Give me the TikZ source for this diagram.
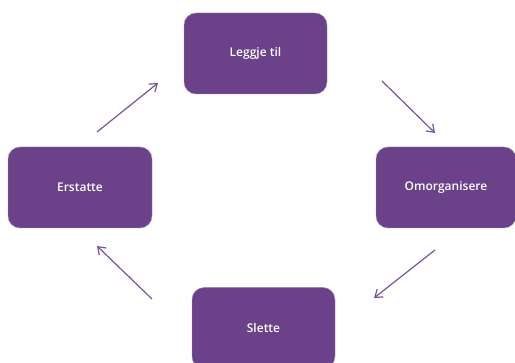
\documentclass[tikz,border=0pt]{standalone}
\usepackage{fontspec}
\setmainfont{Open Sans}[BoldFont={Open Sans Semibold}]
\usetikzlibrary{arrows.meta}
\definecolor{boxpurple}{HTML}{6B4189}
\definecolor{arrowpurple}{HTML}{7B52A0}
\tikzset{
  stepbox/.style={fill=boxpurple, draw=boxpurple!60!white, line width=0.4pt, rounded corners=12pt, minimum width=143pt, minimum height=81pt, inner sep=0pt, text=white, font=\bfseries\fontsize{12}{14}\selectfont, anchor=center},
  flow/.style={draw=arrowpurple, line width=1.2pt, -{Straight Barb[length=7pt,width=10pt]}}
}
\begin{document}
\begin{tikzpicture}[x=1pt,y=-1pt]
\useasboundingbox (0,0) rectangle (515,363);
\clip (0,0) rectangle (515,363);
\node[stepbox] (top) at (255.5,53.5) {Leggje til};
\node[stepbox, minimum width=140pt] (right) at (446,187.5) {Omorganisere};
\node[stepbox, minimum width=144pt] (left) at (80,187.5) {Erstatte};
\node[stepbox] (bottom) at (263.5,328) {Slette};
\coordinate (a1s) at (382,81);
\coordinate (a1e) at (435,133);
\coordinate (a2s) at (435,250);
\coordinate (a2e) at (374,298);
\coordinate (a3s) at (152,299);
\coordinate (a3e) at (97,246);
\coordinate (a4s) at (97,132);
\coordinate (a4e) at (158,83);
\draw[flow] (a1s) -- (a1e);
\draw[flow] (a2s) -- (a2e);
\draw[flow] (a3s) -- (a3e);
\draw[flow] (a4s) -- (a4e);
\end{tikzpicture}
\end{document}
